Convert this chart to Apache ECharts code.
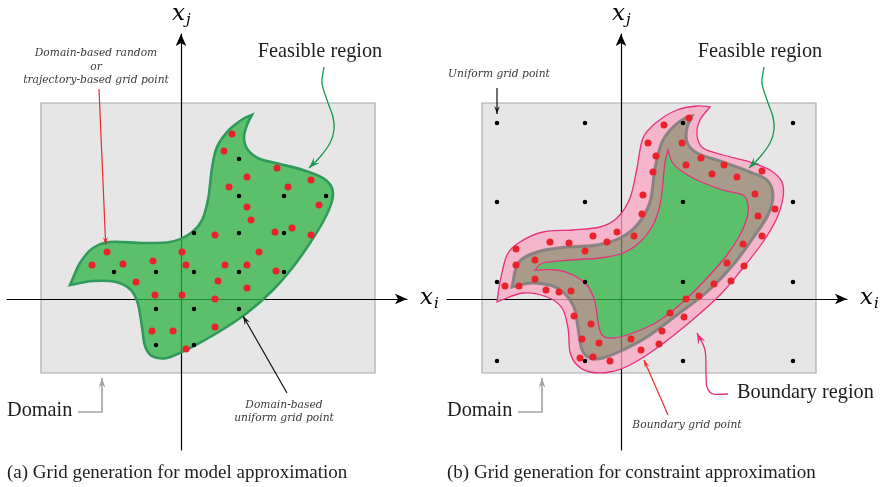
<!DOCTYPE html>
<html>
<head>
<meta charset="utf-8">
<script src="https://cdn.jsdelivr.net/npm/echarts@6/dist/echarts.min.js"></script>
<style>
  html, body { margin: 0; padding: 0; background: #fff; }
  #chart { width: 880px; height: 487px; }
</style>
</head>
<body>
<div id="chart"></div>
<script>
// ---------- Panel (a): grid generation for model approximation ----------
// Domain box in (x_i, x_j): [xmin, ymin, xmax, ymax]
const domainA = [-14.0, -7.4, 19.4, 19.6];

// Feasible region outline (closed), with sharp tips at the listed indices
const regionA = [
  [7.1, 18.4], [6.6, 17.4], [6.3, 16.1], [6.7, 14.9], [7.9, 14.0], [9.9, 13.5],
  [12.2, 12.9], [14.2, 12.1], [15.1, 11.1], [15.1, 9.8], [14.3, 7.9], [12.9, 5.6],
  [11.2, 3.2], [9.2, 0.9], [6.6, -1.4], [3.6, -3.4], [0.9, -4.9], [-1.4, -5.9],
  [-2.9, -5.7], [-3.6, -4.7], [-3.9, -2.8], [-4.3, -0.5], [-5.0, 0.9], [-6.5, 1.7],
  [-8.8, 1.8], [-11.1, 1.4], [-10.1, 3.6], [-8.8, 5.1], [-7.1, 5.7], [-3.8, 5.6],
  [-1.1, 5.7], [0.7, 6.4], [2.0, 7.7], [2.7, 9.9], [3.1, 13.1], [3.6, 15.2],
  [4.8, 16.9], [6.2, 18.0]
];
const regionACorners = [0, 25];

// Domain-based random / trajectory-based grid points
const randomPointsA = [
  [5.1, 16.5], [4.3, 14.8], [6.6, 12.2], [4.8, 11.2], [9.6, 13.1], [10.7, 11.2],
  [13.0, 11.9], [13.8, 9.4], [6.6, 9.2], [7.0, 7.9], [9.4, 6.7], [11.1, 7.1],
  [13.0, 6.4], [3.4, 6.4], [0.1, 4.7], [7.8, 4.7], [-7.4, 4.7], [-8.9, 3.4],
  [-5.8, 3.5], [-2.8, 3.8], [0.5, 3.4], [4.4, 3.4], [6.6, 3.4], [9.5, 2.8],
  [-4.5, 1.7], [3.7, 1.8], [6.6, 1.1], [-2.6, 0.4], [0.1, 0.4], [3.4, 0.0],
  [-2.9, -3.2], [-0.8, -3.2], [3.4, -2.8], [0.5, -5.0]
];

// Domain-based uniform grid points lying in the feasible region
const uniformPointsA = [
  [5.8, 14.0],
  [5.8, 10.3], [10.3, 10.3], [14.5, 10.3],
  [1.3, 6.6], [5.8, 6.6], [10.3, 6.6],
  [-6.7, 2.7], [-2.5, 2.7], [1.3, 2.7], [5.8, 2.7], [10.3, 2.7],
  [-2.5, -1.0], [1.3, -1.0], [5.8, -1.0],
  [-2.5, -4.6], [1.3, -4.6]
];

// ---------- Panel (b): grid generation for constraint approximation ----------
const domainB = [-13.9, -7.4, 19.5, 19.6];

// Outer edge of the boundary region
const boundaryOuterB = [
  [8.9, 19.2], [7.9, 17.9], [7.6, 16.4], [8.2, 15.1], [10.2, 14.4], [12.9, 13.7],
  [14.9, 12.9], [16.1, 11.7], [16.2, 10.1], [15.6, 8.1], [14.2, 5.7], [12.2, 3.1],
  [9.9, 0.4], [6.9, -2.3], [3.6, -4.9], [0.9, -6.6], [-1.1, -7.3], [-3.1, -7.3],
  [-4.4, -6.6], [-5.1, -5.3], [-5.3, -2.9], [-5.9, -0.9], [-7.4, 0.2], [-9.8, 0.6],
  [-12.4, -0.3], [-12.1, 1.7], [-11.4, 4.4], [-10.1, 5.7], [-7.8, 6.7], [-4.8, 6.9],
  [-2.1, 7.2], [-0.4, 8.1], [0.9, 10.1], [1.6, 13.1], [2.2, 16.1], [3.6, 17.7],
  [5.6, 18.9], [7.6, 19.3]
];
const boundaryOuterCorners = [0, 24];

// Feasible region edge
const feasibleB = [
  [7.1, 18.3], [6.6, 17.1], [6.6, 15.7], [7.6, 14.6], [10.2, 13.7], [12.9, 12.7],
  [14.6, 11.9], [15.2, 10.4], [14.7, 8.4], [13.2, 6.1], [11.2, 3.4], [8.6, 0.7],
  [5.6, -1.6], [2.6, -3.8], [0.2, -5.1], [-1.8, -5.9], [-3.1, -5.9], [-3.9, -5.1],
  [-4.3, -2.9], [-4.8, -0.6], [-6.4, 1.1], [-8.8, 1.6], [-10.9, 1.2], [-10.3, 3.6],
  [-8.4, 4.7], [-5.4, 5.2], [-2.4, 5.4], [-0.1, 6.1], [1.6, 7.4], [2.9, 9.7],
  [3.4, 13.1], [4.1, 15.7], [5.2, 17.2], [6.4, 18.1]
];
const feasibleCorners = [0, 22];

// Inner edge of the boundary region
const boundaryInnerB = [
  [4.7, 14.9], [5.1, 13.7], [5.9, 12.9], [7.6, 11.9], [10.2, 10.9], [12.2, 10.4],
  [12.7, 9.4], [12.6, 8.1], [11.9, 6.4], [10.6, 4.4], [8.6, 2.1], [6.2, -0.3],
  [3.6, -2.3], [1.2, -3.4], [-0.8, -3.9], [-1.9, -3.6], [-2.3, -2.3], [-2.6, -0.3],
  [-3.4, 1.4], [-4.8, 2.4], [-6.4, 2.9], [-8.6, 2.9], [-7.8, 3.6], [-5.1, 3.9],
  [-2.1, 4.1], [0.2, 4.6], [1.9, 5.7], [3.2, 7.4], [3.9, 9.4], [4.2, 11.7],
  [4.4, 13.7]
];
const boundaryInnerCorners = [0, 21];

// Boundary grid points
const boundaryPointsB = [
  [6.8, 18.1], [4.3, 17.4], [6.1, 15.6], [2.7, 15.6], [3.5, 14.3], [8.0, 14.1],
  [6.5, 13.4], [10.3, 13.4], [9.1, 12.5], [11.6, 12.2], [14.1, 12.8], [3.2, 12.7],
  [2.2, 10.4], [13.4, 10.5], [15.4, 9.0], [13.7, 8.3], [2.1, 8.5], [-0.4, 6.7],
  [1.3, 6.3], [-2.8, 6.3], [-1.4, 5.7], [-5.2, 5.6], [-7.1, 5.7], [-3.6, 4.8],
  [14.1, 6.3], [12.2, 5.5], [-10.5, 5.0], [-8.6, 3.9], [-10.5, 3.4], [10.6, 3.6],
  [12.3, 3.3], [-8.6, 2.0], [-11.6, 1.3], [-10.2, 1.3], [-7.5, 0.9], [-6.2, 0.7],
  [-5.0, 0.8], [11.0, 1.8], [9.3, 1.5], [7.8, 0.3], [6.5, 0.0], [4.9, -1.4],
  [6.3, -1.8], [-4.7, -1.7], [-3.0, -2.5], [4.1, -3.2], [-3.9, -4.0], [1.0, -4.0],
  [3.8, -4.5], [-2.2, -4.4], [2.0, -5.1], [-4.1, -5.9], [-2.8, -5.8], [-1.1, -6.2]
];

// Uniform grid points over the whole domain
const uniformPointsB = [
  [-12.4, 17.6], [-3.6, 17.6], [6.2, 17.6], [17.2, 17.6],
  [-12.4, 9.7], [-3.6, 9.7], [6.2, 9.7], [17.2, 9.7],
  [-12.4, 1.7], [-3.6, 1.7], [6.2, 1.7], [17.2, 1.7],
  [-12.4, -6.2], [-3.6, -6.2], [6.2, -6.2], [17.2, -6.2]
];

// Text
const captions = [
  '(a) Grid generation for model approximation',
  '(b) Grid generation for constraint approximation'
];

// ---------- drawing helpers ----------
const SERIF = '"Liberation Serif", "DejaVu Serif", serif';
const ITALIC_NOTE = '"DejaVu Serif", serif';
const MATH = '"DejaVu Serif", serif';

function fmt(p) { return p[0].toFixed(2) + ' ' + p[1].toFixed(2); }

// Smooth Catmull-Rom curve through the points, emitted as cubic Beziers.
function smoothPath(px, closed, corners) {
  const n = px.length;
  const isCorner = i => corners.indexOf(i) >= 0;
  let d = 'M' + fmt(px[0]);
  const segs = closed ? n : n - 1;
  for (let i = 0; i < segs; i++) {
    const j = (i + 1) % n;
    const p0 = px[(i - 1 + n) % n], p1 = px[i], p2 = px[j], p3 = px[(i + 2) % n];
    let c1, c2;
    if (isCorner(i) || (!closed && i === 0)) {
      c1 = [p1[0] + (p2[0] - p1[0]) / 3, p1[1] + (p2[1] - p1[1]) / 3];
    } else {
      c1 = [p1[0] + (p2[0] - p0[0]) / 6, p1[1] + (p2[1] - p0[1]) / 6];
    }
    if (isCorner(j) || (!closed && j === n - 1)) {
      c2 = [p2[0] - (p2[0] - p1[0]) / 3, p2[1] - (p2[1] - p1[1]) / 3];
    } else {
      c2 = [p2[0] - (p3[0] - p1[0]) / 6, p2[1] - (p3[1] - p1[1]) / 6];
    }
    d += ' C' + fmt(c1) + ' ' + fmt(c2) + ' ' + fmt(p2);
  }
  if (closed) d += ' Z';
  return d;
}

function signedArea(px) {
  let a = 0;
  for (let i = 0; i < px.length; i++) {
    const p = px[i], q = px[(i + 1) % px.length];
    a += p[0] * q[1] - q[0] * p[1];
  }
  return a / 2;
}

function closedPath(api, pts, corners) {
  return smoothPath(pts.map(p => api.coord(p)), true, corners);
}

// Band between two closed outlines (inner loop wound the other way -> hole)
function ringPath(api, outer, outerCorners, inner, innerCorners) {
  const po = outer.map(p => api.coord(p));
  let pi = inner.map(p => api.coord(p));
  let ic = innerCorners.slice();
  if (Math.sign(signedArea(po)) === Math.sign(signedArea(pi))) {
    const n = pi.length;
    pi = pi.slice().reverse();
    ic = ic.map(i => n - 1 - i);
  }
  return smoothPath(po, true, outerCorners) + ' ' + smoothPath(pi, true, ic);
}

function arrowHead(tip, from, len, wid, color) {
  const dx = tip[0] - from[0], dy = tip[1] - from[1];
  const L = Math.hypot(dx, dy) || 1;
  const ux = dx / L, uy = dy / L, nx = -uy, ny = ux;
  const bx = tip[0] - ux * len, by = tip[1] - uy * len;
  return {
    type: 'polygon',
    shape: { points: [
      tip,
      [bx + nx * wid / 2, by + ny * wid / 2],
      [tip[0] - ux * len * 0.62, tip[1] - uy * len * 0.62],
      [bx - nx * wid / 2, by - ny * wid / 2]
    ] },
    style: { fill: color }
  };
}

function arrow(api, pts, opt) {
  const px = pts.map(p => api.coord(p));
  let d;
  if (opt.curved) {
    d = smoothPath(px, false, []);
  } else {
    d = 'M' + fmt(px[0]) + px.slice(1).map(p => ' L' + fmt(p)).join('');
  }
  return [
    { type: 'path', shape: { pathData: d },
      style: { stroke: opt.color, lineWidth: opt.width, fill: 'none' } },
    arrowHead(px[px.length - 1], px[px.length - 2], opt.len, opt.wid, opt.color)
  ];
}

function label(api, pos, text, style) {
  const p = api.coord(pos);
  return {
    type: 'text', x: p[0], y: p[1],
    style: Object.assign({
      text: text, fill: '#1e1e1e', align: 'center', verticalAlign: 'middle',
      fontFamily: SERIF, fontSize: 20.3
    }, style)
  };
}

function note(api, pos, text) {
  return label(api, pos, text, {
    fontFamily: ITALIC_NOTE, fontStyle: 'italic', fontSize: 10.7, fill: '#3a3a3a'
  });
}

function axisNames(api) {
  const xs = { fontFamily: MATH, fontStyle: 'italic', fontSize: 23, align: 'left', fill: '#000' };
  const ss = { fontFamily: MATH, fontStyle: 'italic', fontSize: 15, align: 'left', fill: '#000' };
  return [
    label(api, [23.9, 0.1], 'x', xs),
    label(api, [25.3, -0.5], 'i', ss),
    label(api, [-0.9, 28.5], 'x', xs),
    label(api, [0.5, 27.9], 'j', ss)
  ];
}

// Shared annotation pieces (same place in both panels)
const feasibleArrow = [[14.3, 23.2], [14.1, 21.6], [14.6, 19.9], [15.2, 18.2], [15.3, 16.9],
                       [14.9, 15.6], [13.9, 14.2], [12.8, 13.1]];
const domainArrow = [[-10.3, -11.3], [-7.9, -11.3], [-7.9, -7.9]];

function commonNotes(api) {
  return [
    label(api, [13.9, 24.7], 'Feasible region'),
    label(api, [-17.4, -11.2], 'Domain', { align: 'left' }),
    ...arrow(api, feasibleArrow, { curved: true, color: '#16994f', width: 1.3, len: 11, wid: 8 }),
    ...arrow(api, domainArrow, { color: '#a3a3a3', width: 1.6, len: 10, wid: 7 }),
    ...axisNames(api)
  ];
}

function notesA(api) {
  return { type: 'group', children: [
    ...commonNotes(api),
    note(api, [-8.5, 24.6], 'Domain-based random'),
    note(api, [-8.5, 23.2], 'or'),
    note(api, [-8.5, 21.9], 'trajectory-based grid point'),
    ...arrow(api, [[-8.2, 21.0], [-7.53, 5.4]], { color: '#ee2a2a', width: 1.2, len: 8, wid: 5 }),
    note(api, [10.3, -10.6], 'Domain-based'),
    note(api, [10.3, -11.9], 'uniform grid point'),
    ...arrow(api, [[10.6, -9.4], [6.2, -1.7]], { color: '#111', width: 1.2, len: 9, wid: 6 })
  ] };
}

function notesB(api) {
  return { type: 'group', children: [
    ...commonNotes(api),
    note(api, [-12.2, 22.5], 'Uniform grid point'),
    ...arrow(api, [[-12.4, 21.1], [-12.4, 18.5]], { color: '#111', width: 1.2, len: 8, wid: 5.5 }),
    label(api, [11.6, -9.4], 'Boundary region', { align: 'left' }),
    ...arrow(api, [[10.7, -9.5], [9.2, -9.5], [8.6, -8.8], [8.5, -7.4], [8.4, -5.1], [7.6, -3.4]],
             { curved: true, color: '#e5307e', width: 1.3, len: 11, wid: 8 }),
    note(api, [6.6, -12.6], 'Boundary grid point'),
    ...arrow(api, [[4.7, -11.6], [2.3, -6.1]], { color: '#ee2a2a', width: 1.2, len: 8, wid: 5 })
  ] };
}

// Custom series whose first item draws the whole shape from its array
function shapeSeries(idx, z, data, build) {
  return {
    type: 'custom', xAxisIndex: idx, yAxisIndex: idx, z: z, silent: true, clip: false,
    data: data,
    renderItem: (params, api) => params.dataIndex === 0 ? build(api) : null
  };
}

function domainSeries(idx, box) {
  return shapeSeries(idx, 0, [box], api => {
    const p0 = api.coord([box[0], box[3]]);
    const p1 = api.coord([box[2], box[1]]);
    return { type: 'rect',
      shape: { x: p0[0], y: p0[1], width: p1[0] - p0[0], height: p1[1] - p0[1] },
      style: { fill: '#e6e6e6', stroke: '#a9a9a9', lineWidth: 1.2 } };
  });
}

function dots(idx, data, color, size) {
  return { type: 'scatter', xAxisIndex: idx, yAxisIndex: idx, z: 6, silent: true,
    symbol: 'circle', symbolSize: size, data: data,
    itemStyle: { color: color, opacity: 1 } };
}

const GREEN_FILL = 'rgba(46,177,65,0.75)';
const PINK = '#e5307e';

const series = [
  // panel (a)
  domainSeries(0, domainA),
  shapeSeries(0, 2, regionA, api => ({ type: 'path',
    shape: { pathData: closedPath(api, regionA, regionACorners) },
    style: { fill: GREEN_FILL, stroke: '#2f9a5b', lineWidth: 2.6 } })),
  dots(0, randomPointsA, '#e9222c', 7),
  dots(0, uniformPointsA, '#000', 4.5),
  shapeSeries(0, 8, [[0, 0]], notesA),

  // panel (b)
  domainSeries(1, domainB),
  shapeSeries(1, 2, boundaryOuterB, api => ({ type: 'group', children: [
    { type: 'path',
      shape: { pathData: ringPath(api, boundaryOuterB, boundaryOuterCorners, feasibleB, feasibleCorners) },
      style: { fill: 'rgba(249,164,192,0.75)' } },
    { type: 'path',
      shape: { pathData: ringPath(api, feasibleB, feasibleCorners, boundaryInnerB, boundaryInnerCorners) },
      style: { fill: 'rgba(148,129,105,0.75)' } },
    { type: 'path',
      shape: { pathData: closedPath(api, boundaryInnerB, boundaryInnerCorners) },
      style: { fill: GREEN_FILL } },
    { type: 'path',
      shape: { pathData: closedPath(api, boundaryOuterB, boundaryOuterCorners) },
      style: { fill: 'none', stroke: PINK, lineWidth: 1.3 } },
    { type: 'path',
      shape: { pathData: closedPath(api, feasibleB, feasibleCorners) },
      style: { fill: 'none', stroke: 'rgba(125,125,125,0.85)', lineWidth: 3 } },
    { type: 'path',
      shape: { pathData: closedPath(api, boundaryInnerB, boundaryInnerCorners) },
      style: { fill: 'none', stroke: PINK, lineWidth: 1.3 } }
  ] })),
  dots(1, boundaryPointsB, '#e9222c', 7),
  dots(1, uniformPointsB, '#000', 4.5),
  shapeSeries(1, 8, [[0, 0]], notesB)
];

const axisBase = {
  type: 'value', z: 1,
  axisTick: { show: false }, axisLabel: { show: false }, splitLine: { show: false },
  axisLine: { show: true, onZero: true, symbol: ['none', 'arrow'], symbolSize: [8, 12],
              lineStyle: { color: '#000', width: 1.2 } }
};
const xRange = { min: -17.4, max: 22.6 };
const yRange = { min: -15.1, max: 26.5 };

const chart = echarts.init(document.getElementById('chart'), null, { renderer: 'canvas' });
chart.setOption({
  animation: false,
  backgroundColor: '#fff',
  title: captions.map((t, i) => ({
    text: t, left: i === 0 ? 7 : 447, top: 464, padding: 0,
    textStyle: { fontFamily: SERIF, fontWeight: 'normal', fontSize: 19, color: '#1e1e1e' }
  })),
  grid: [
    { left: 7, top: 34, width: 400, height: 416 },
    { left: 447, top: 34, width: 400, height: 416 }
  ],
  xAxis: [0, 1].map(i => Object.assign({}, axisBase, xRange, { gridIndex: i })),
  yAxis: [0, 1].map(i => Object.assign({}, axisBase, yRange, { gridIndex: i })),
  series: series
});
</script>
</body>
</html>
